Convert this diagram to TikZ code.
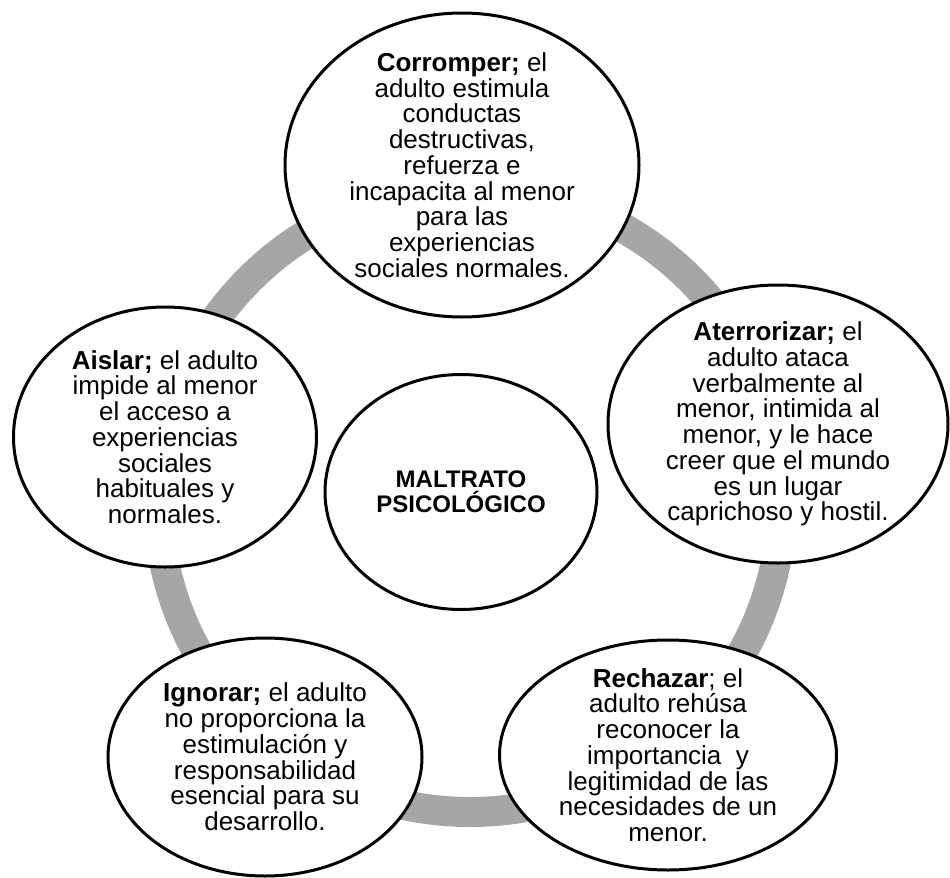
\documentclass[tikz,border=0pt]{standalone}
\usepackage{fontspec}
\setmainfont{Liberation Sans}
\usetikzlibrary{shapes.geometric}
\newcommand{\pxunit}{0.75pt}
\newcommand{\bubbletext}{\fontsize{19.5}{19.3}\selectfont}
\newcommand{\coretext}{\fontsize{18}{18.8}\selectfont\bfseries}
\definecolor{ringgray}{RGB}{166,166,166}
\tikzset{ring/.style={draw=#1,line width=30*\pxunit},ring/.default=ringgray}
\tikzset{bubble/.style={draw=black,fill=white,ellipse,line width=3*\pxunit,inner sep=0pt}}
\tikzset{caption/.style={align=center,inner sep=0pt,font=#1},caption/.default=\bubbletext}

\begin{document}
\begin{tikzpicture}[x=\pxunit,y=-\pxunit]
	\useasboundingbox (0,0) rectangle (950,878);
	\coordinate (hub) at (470,500);
	\draw [ring] (hub) circle [radius=312];

	\node [bubble,minimum width=354*\pxunit,minimum height=304*\pxunit] (corromper) at (462,165) {};
	\node [caption] (corromper-txt) at (corromper) {\textbf{Corromper;} el\\adulto estimula\\conductas\\destructivas,\\refuerza e\\incapacita al menor\\para las\\experiencias\\sociales normales.};

	\node [bubble,minimum width=340*\pxunit,minimum height=278*\pxunit] (aterrorizar) at (778,424) {};
	\node [caption] (aterrorizar-txt) at (aterrorizar) {\textbf{Aterrorizar;} el\\adulto ataca\\verbalmente al\\menor, intimida al\\menor, y le hace\\creer que el mundo\\es un lugar\\caprichoso y hostil.};

	\node [bubble,minimum width=337*\pxunit,minimum height=230*\pxunit] (rechazar) at (668,755) {};
	\node [caption] (rechazar-txt) at (rechazar) {\textbf{Rechazar}; el\\adulto rehúsa\\reconocer la\\importancia \ y\\legitimidad de las\\necesidades de un\\menor.};

	\node [bubble,minimum width=314*\pxunit,minimum height=238*\pxunit] (ignorar) at (265,757) {};
	\node [caption] (ignorar-txt) at (ignorar) {\textbf{Ignorar;} el adulto\\no proporciona la\\estimulación y\\responsabilidad\\esencial para su\\desarrollo.};

	\node [bubble,minimum width=303*\pxunit,minimum height=260*\pxunit] (aislar) at (165,437) {};
	\node [caption] (aislar-txt) at (aislar) {\textbf{Aislar;} el adulto\\impide al menor\\el acceso a\\experiencias\\sociales\\habituales y\\normales.};

	\node [bubble,minimum width=272*\pxunit,minimum height=235*\pxunit] (core) at (461,492) {};
	\node [caption=\coretext] (core-txt) at (core) {MALTRATO\\PSICOLÓGICO};
\end{tikzpicture}
\end{document}
